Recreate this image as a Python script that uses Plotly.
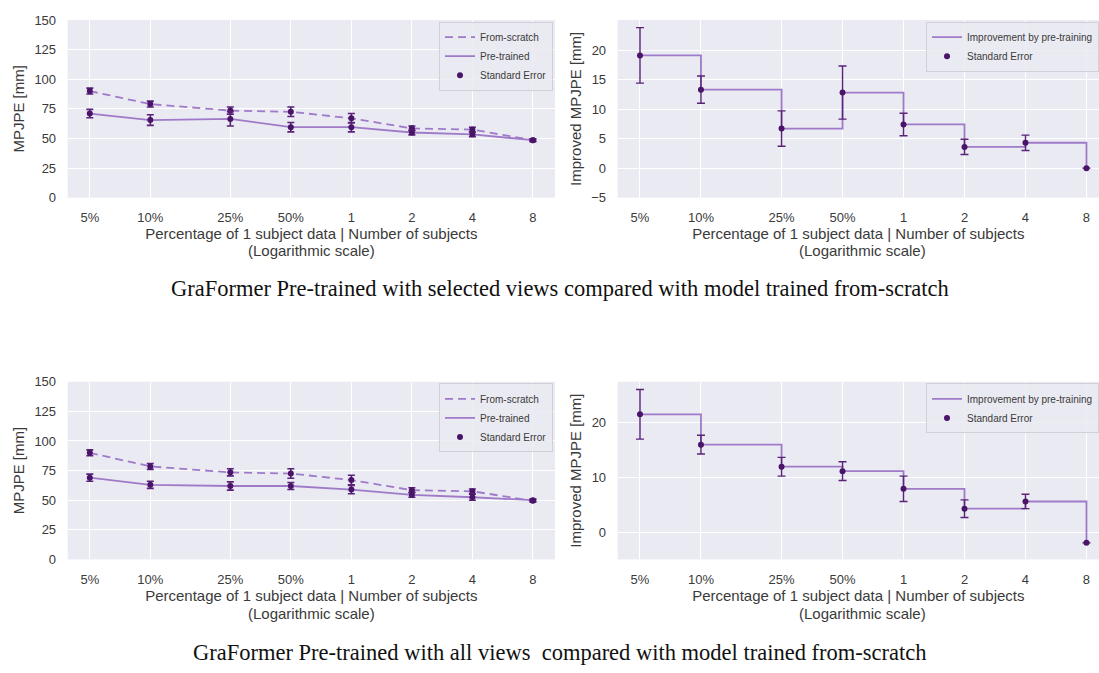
import plotly.graph_objects as go

# ---------------- data ----------------
x_vals = [0.05, 0.1, 0.25, 0.5, 1, 2, 4, 8]
x_ticktext = ["5%", "10%", "25%", "50%", "1", "2", "4", "8"]

# Selected views (top row)
sel_scratch = [90, 79, 73.5, 72.5, 67, 58.5, 57.5, 48.5]
sel_scratch_err = [2.5, 2.5, 3, 4, 4, 2, 2, 1]
sel_pre = [71, 65.5, 66.5, 59.5, 59.5, 55, 53.5, 48.5]
sel_pre_err = [3.5, 4.5, 6, 4, 4, 2, 2, 1]
sel_impr = [19.1, 13.3, 6.7, 12.8, 7.4, 3.6, 4.3, 0.0]
sel_impr_err = [4.7, 2.3, 3.0, 4.5, 1.9, 1.3, 1.3, 0.0]

# All views (bottom row)
all_scratch = [90, 78.5, 73.5, 72.5, 67, 58.5, 57.5, 49.5]
all_scratch_err = [2.5, 2.5, 3, 4, 4, 2, 2, 1]
all_pre = [69, 63, 62, 62, 59, 54.5, 52.5, 50]
all_pre_err = [3, 3, 3.5, 3, 3.5, 2, 2.5, 1]
all_impr = [21.5, 16.0, 12.0, 11.2, 8.0, 4.4, 5.7, -1.8]
all_impr_err = [4.5, 1.7, 1.7, 1.7, 2.3, 1.6, 1.3, 0.0]

captions = [
    "GraFormer Pre-trained with selected views compared with model trained from-scratch",
    "GraFormer Pre-trained with all views  compared with model trained from-scratch",
]
x_title_1 = "Percentage of 1 subject data | Number of subjects"
x_title_2 = "(Logarithmic scale)"

# ---------------- style ----------------
W, H = 1099, 673
LINE = "#9f7ac9"
ERR = "#5a2279"
MARK = "#4a1468"
BG = "#eaeaf2"
TXT = "#3a3a3a"
FONT = "Liberation Sans"

fig = go.Figure()


def px_x(p):
    return p / W


def px_y(p):
    return 1 - p / H


dom_left = [px_x(67.7), px_x(555)]
dom_right = [px_x(617.7), 1.0]
dom_top = [px_y(195), px_y(13.3)]
dom_bot = [px_y(565), px_y(383.3)]


def add_compare(xa, ya, lg, scratch, scratch_err, pre, pre_err):
    fig.add_trace(go.Scatter(x=x_vals, y=scratch, mode="lines", name="From-scratch",
                             line=dict(color=LINE, width=1.8, dash="8px,5px"),
                             xaxis=xa, yaxis=ya, legend=lg))
    fig.add_trace(go.Scatter(x=x_vals, y=pre, mode="lines", name="Pre-trained",
                             line=dict(color=LINE, width=1.8),
                             xaxis=xa, yaxis=ya, legend=lg))
    fig.add_trace(go.Scatter(x=x_vals, y=scratch, mode="markers", name="Standard Error",
                             marker=dict(color=MARK, size=6),
                             error_y=dict(type="data", array=scratch_err, color=ERR,
                                          thickness=1.6, width=3.5),
                             xaxis=xa, yaxis=ya, legend=lg))
    fig.add_trace(go.Scatter(x=x_vals, y=pre, mode="markers", name="Standard Error",
                             showlegend=False,
                             marker=dict(color=MARK, size=6),
                             error_y=dict(type="data", array=pre_err, color=ERR,
                                          thickness=1.6, width=3.5),
                             xaxis=xa, yaxis=ya, legend=lg))


def add_impr(xa, ya, lg, impr, impr_err):
    fig.add_trace(go.Scatter(x=x_vals, y=impr, mode="lines", name="Improvement by pre-training",
                             line=dict(color=LINE, width=1.8, shape="hv"),
                             xaxis=xa, yaxis=ya, legend=lg))
    fig.add_trace(go.Scatter(x=x_vals, y=impr, mode="markers", name="Standard Error",
                             marker=dict(color=MARK, size=6),
                             error_y=dict(type="data", array=impr_err, color=ERR,
                                          thickness=1.4, width=4),
                             xaxis=xa, yaxis=ya, legend=lg))


add_compare("x", "y", "legend", sel_scratch, sel_scratch_err, sel_pre, sel_pre_err)
add_impr("x2", "y2", "legend2", sel_impr, sel_impr_err)
add_compare("x3", "y3", "legend3", all_scratch, all_scratch_err, all_pre, all_pre_err)
add_impr("x4", "y4", "legend4", all_impr, all_impr_err)


def xaxis(dom, anchor, rng):
    return dict(domain=dom, anchor=anchor, type="log", range=rng,
                tickvals=x_vals, ticktext=x_ticktext,
                showgrid=True, gridcolor="white", gridwidth=1.2,
                zeroline=False, showline=False,
                ticks="outside", ticklen=8, tickcolor="rgba(0,0,0,0)",
                tickfont=dict(family=FONT, size=13, color=TXT),
                title=dict(text=x_title_1, font=dict(family=FONT, size=15, color=TXT), standoff=2))


def yaxis(dom, anchor, rng, tv, title):
    return dict(domain=dom, anchor=anchor, range=rng, tickvals=tv,
                ticktext=[("\u2212" + str(abs(v))) if v < 0 else str(v) for v in tv],
                showgrid=True, gridcolor="white", gridwidth=1.2,
                zeroline=False, showline=False,
                ticks="outside", ticklen=8, tickcolor="rgba(0,0,0,0)",
                tickfont=dict(family=FONT, size=13, color=TXT),
                title=dict(text=title, font=dict(family=FONT, size=15, color=TXT), standoff=6))


left_rng = [-1.411, 1.013]
right_rng = [-1.411, 0.965]

leg_style = dict(bgcolor="rgba(234,234,242,0.85)", bordercolor="#d0d0d8", borderwidth=1,
                 font=dict(family=FONT, size=10, color=TXT), xanchor="right", yanchor="top",
                 tracegroupgap=0, itemwidth=30)

fig.update_layout(
    width=W, height=H,
    margin=dict(l=0, r=0, t=0, b=0),
    paper_bgcolor="white", plot_bgcolor=BG,
    xaxis=xaxis(dom_left, "y", left_rng),
    yaxis=yaxis(dom_top, "x", [0, 150], [0, 25, 50, 75, 100, 125, 150], "MPJPE [mm]"),
    xaxis2=xaxis(dom_right, "y2", right_rng),
    yaxis2=yaxis(dom_top, "x2", [-5, 25.1], [-5, 0, 5, 10, 15, 20], "Improved MPJPE [mm]"),
    xaxis3=xaxis(dom_left, "y3", left_rng),
    yaxis3=yaxis(dom_bot, "x3", [0, 150], [0, 25, 50, 75, 100, 125, 150], "MPJPE [mm]"),
    xaxis4=xaxis(dom_right, "y4", right_rng),
    yaxis4=yaxis(dom_bot, "x4", [-4.8, 27.4], [0, 10, 20], "Improved MPJPE [mm]"),
    legend=dict(x=px_x(553), y=px_y(15), **leg_style),
    legend2=dict(x=1.0, y=px_y(15), **leg_style),
    legend3=dict(x=px_x(553), y=px_y(385), **leg_style),
    legend4=dict(x=1.0, y=px_y(385), **leg_style),
    showlegend=True,
)

# second line of each x-axis title
for xc, yc in [(311, 249), (862, 249), (311, 620), (862, 620)]:
    fig.add_annotation(text=x_title_2, xref="paper", yref="paper", x=px_x(xc), y=px_y(yc),
                       showarrow=False, xanchor="center", yanchor="middle",
                       font=dict(family=FONT, size=15, color=TXT))

fig.add_annotation(text=captions[0], xref="paper", yref="paper", x=px_x(560), y=px_y(288),
                   showarrow=False, xanchor="center", yanchor="middle",
                   font=dict(family="Liberation Serif", size=22.5, color="#111111"))
fig.add_annotation(text=captions[1], xref="paper", yref="paper", x=px_x(560), y=px_y(660),
                   showarrow=False, xanchor="center", yanchor="middle",
                   font=dict(family="Liberation Serif", size=22.5, color="#111111"))

fig.write_html("out.html", config={"displayModeBar": False},
               post_script="document.body.style.margin='0';document.body.style.overflow='hidden';")
